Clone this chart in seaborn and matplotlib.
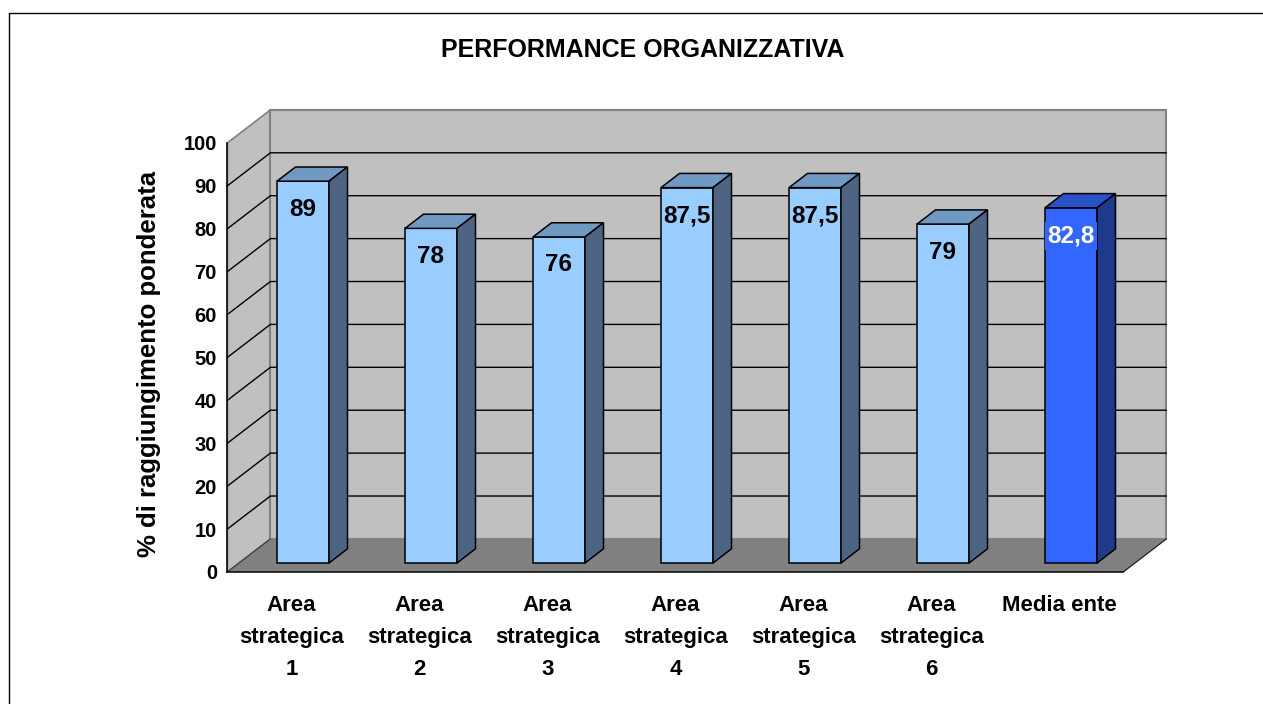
import matplotlib
matplotlib.use("Agg")
import matplotlib.pyplot as plt
import seaborn as sns
import pandas as pd
from matplotlib.patches import Polygon
from matplotlib.lines import Line2D
from matplotlib.ticker import FixedLocator, NullFormatter

# ---------------- data ----------------
categories = ["Area\nstrategica\n1", "Area\nstrategica\n2", "Area\nstrategica\n3",
              "Area\nstrategica\n4", "Area\nstrategica\n5", "Area\nstrategica\n6",
              "Media ente"]
values = [89, 78, 76, 87.5, 87.5, 79, 82.8]
y_ticks = [0, 10, 20, 30, 40, 50, 60, 70, 80, 90, 100]
title = "PERFORMANCE ORGANIZZATIVA"
ylabel = "% di raggiungimento ponderata"

front_colors = ["#99CCFF"] * 6 + ["#3366FF"]
top_colors = ["#6F98C3"] * 6 + ["#2A52C8"]
side_colors = ["#4D6483"] * 6 + ["#1D3A8C"]
label_colors = ["black"] * 6 + ["white"]

sns.set_style("white")
plt.rcParams["font.family"] = ["Liberation Sans", "DejaVu Sans"]
plt.rcParams["font.weight"] = "bold"
for k in ("text.color", "axes.labelcolor", "xtick.color", "ytick.color"):
    plt.rcParams[k] = "black"

W, H = 1263, 704
fig = plt.figure(figsize=(W / 100, H / 100), dpi=100)

# pixel geometry of the pseudo-3D chart
bx0, bstep = 303.0, 128.0       # bar-plane: x pixel of category 0 and spacing
by0, bscale = 563.0, 4.29       # bar-plane: y pixel of value 0 and px per unit
box = (150, 90, 1200, 600)      # main axes box in pixels (l, t, r, b)

ax = fig.add_axes([box[0] / W, 1 - box[3] / H, (box[2] - box[0]) / W, (box[3] - box[1]) / H])
ax.set_zorder(1)

df = pd.DataFrame({"cat": categories, "val": values})
sns.barplot(data=df, x="cat", y="val", hue="cat", palette=front_colors, legend=False,
            saturation=1, width=52 / bstep, edgecolor="black", linewidth=1.1, ax=ax, zorder=4)

ax.set_xlim((box[0] - bx0) / bstep, (box[2] - bx0) / bstep)
ax.set_ylim((by0 - box[3]) / bscale, (by0 - box[1]) / bscale)
ax.axis("off")

# depth vector (front plane -> back plane) in data units
Dx, Dy = 43 / bstep, 33 / bscale
f_bar = 0.27   # depth of bar front faces
f_side = 0.43  # bar depth


def front(c, v):
    return (c - f_bar * Dx, v - f_bar * Dy)


def back(c, v):
    return (c + (1 - f_bar) * Dx, v + (1 - f_bar) * Dy)


c0, c1 = -0.5, len(categories) - 0.5
vmax = y_ticks[-1]
# walls and floor
ax.add_patch(Polygon([front(c0, 0), front(c0, vmax), back(c0, vmax), back(c0, 0)],
                     closed=True, fc="#C0C0C0", ec="#808080", lw=1.2, zorder=0))
ax.add_patch(Polygon([back(c0, 0), back(c1, 0), back(c1, vmax), back(c0, vmax)],
                     closed=True, fc="#C0C0C0", ec="#808080", lw=1.5, zorder=0))
ax.add_patch(Polygon([front(c0, 0), front(c1, 0), back(c1, 0), back(c0, 0)],
                     closed=True, fc="#808080", ec="none", zorder=0.5))
ax.plot([front(c1, 0)[0], back(c1, 0)[0]], [front(c1, 0)[1], back(c1, 0)[1]],
        color="#202020", lw=0.9, zorder=0.6)
for v in y_ticks[1:-1]:
    p0, p1, p2 = front(c0, v), back(c0, v), back(c1, v)
    ax.plot([p0[0], p1[0], p2[0]], [p0[1], p1[1], p2[1]], color="black", lw=1.0, zorder=1)
p0, p1 = front(c0, 0), back(c0, 0)
ax.plot([p0[0], p1[0]], [p0[1], p1[1]], color="#404040", lw=0.9, zorder=1)

# 3D faces of the bars
sx, sy = f_side * Dx, f_side * Dy
bars = [p for p in ax.patches if p.get_zorder() == 4 and p.get_height() != 0]
for bar, tc, sc, v, lc in zip(bars, top_colors, side_colors, values, label_colors):
    x0 = bar.get_x()
    w = bar.get_width()
    h = bar.get_height()
    ax.add_patch(Polygon([(x0, h), (x0 + w, h), (x0 + w + sx, h + sy), (x0 + sx, h + sy)],
                         closed=True, fc=tc, ec="black", lw=1.1, zorder=4))
    ax.add_patch(Polygon([(x0 + w, 0), (x0 + w + sx, sy), (x0 + w + sx, h + sy), (x0 + w, h)],
                         closed=True, fc=sc, ec="black", lw=1.1, zorder=4))
    txt = f"{v:g}".replace(".", ",")
    kw = {}
    if lc == "white":
        kw["bbox"] = dict(boxstyle="square,pad=0.1", fc=bar.get_facecolor(), ec="none")
    ax.annotate(txt, xy=(x0 + w / 2, h), xytext=(0, -28), textcoords="offset pixels",
                ha="center", va="center", fontsize=17.5, fontweight="bold", color=lc,
                zorder=6, **kw)

# front-plane axis frame (ticks and labels)
fl, fb = bx0 - f_bar * 43 - bstep / 2, by0 + f_bar * 33
fr = fl + bstep * len(categories)
ft = fb - bscale * vmax
ax2 = fig.add_axes([fl / W, 1 - fb / H, (fr - fl) / W, (fb - ft) / H])
ax2.set_zorder(2)
ax2.patch.set_visible(False)
ax2.set_xlim(c0, c1)
ax2.set_ylim(0, vmax)
for s in ("top", "right"):
    ax2.spines[s].set_visible(False)
for s in ("left", "bottom"):
    ax2.spines[s].set_color("black")
    ax2.spines[s].set_linewidth(1.1)
ax2.set_yticks(y_ticks)
ax2.set_yticklabels([str(t) for t in y_ticks], fontsize=14.5, fontweight="bold")
ax2.tick_params(axis="y", direction="out", length=6.5, width=1.0, color="black", pad=1)
ax2.xaxis.set_major_locator(FixedLocator([c0 + i for i in range(len(categories) + 1)]))
ax2.xaxis.set_major_formatter(NullFormatter())
ax2.tick_params(axis="x", which="major", direction="out", length=6, width=1.0, color="#404040")
ax2.grid(False)

# category labels centred under each category on the front plane (one text per line)
xaxis_tf = ax2.get_xaxis_transform()
for i, cat in enumerate(categories):
    for k, line in enumerate(cat.split("\n")):
        ax2.annotate(line, xy=(i, 0), xycoords=xaxis_tf, xytext=(0, -39 - 32 * k),
                     textcoords="offset pixels", ha="center", va="baseline",
                     fontsize=16, fontweight="bold", annotation_clip=False)

fig.text(643 / W, 1 - 50 / H, title, ha="center", va="center", fontsize=18, fontweight="bold")
fig.text(149 / W, 1 - 364 / H, ylabel, ha="center", va="center", rotation=90,
         fontsize=18.5, fontweight="bold")

# outer border (only top and left are visible in the crop)
fig.add_artist(Line2D([9 / W, 1.0], [1 - 13 / H, 1 - 13 / H], transform=fig.transFigure,
                      color="black", lw=1.0))
fig.add_artist(Line2D([9 / W, 9 / W], [0, 1 - 13 / H], transform=fig.transFigure,
                      color="black", lw=1.0))

fig.savefig("out.png", dpi=100)
